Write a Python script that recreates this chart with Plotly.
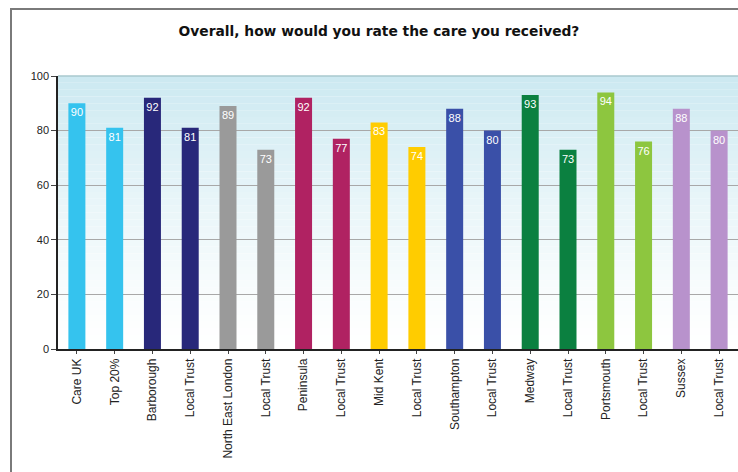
import plotly.graph_objects as go

categories = ["Care UK", "Top 20%", "Barborough", "Local Trust", "North East London", "Local Trust",
              "Peninsula", "Local Trust", "Mid Kent", "Local Trust", "Southampton", "Local Trust",
              "Medway", "Local Trust", "Portsmouth", "Local Trust", "Sussex", "Local Trust"]
values = [90, 81, 92, 81, 89, 73, 92, 77, 83, 74, 88, 80, 93, 73, 94, 76, 88, 80]
colors = ["#35C3EE", "#35C3EE", "#28287A", "#28287A", "#9A9A9A", "#9A9A9A",
          "#B02262", "#B02262", "#FFCC00", "#FFCC00", "#3A50A8", "#3A50A8",
          "#0B8040", "#0B8040", "#8DC63F", "#8DC63F", "#B892CC", "#B892CC"]
y_ticks = [0, 20, 40, 60, 80, 100]
title = "Overall, how would you rate the care you received?"

W, H = 738, 472
L, R, T, B = 58, 0, 76, 123

x_idx = list(range(len(categories)))

fig = go.Figure()
fig.add_trace(go.Bar(
    x=x_idx, y=values, marker=dict(color=colors, line=dict(width=0)),
    width=0.45, text=[str(v) for v in values], textposition="inside",
    insidetextanchor="end", textangle=0, constraintext="none",
    textfont=dict(color="white", size=11, family="Arial, Liberation Sans"),
    hoverinfo="skip"))

# gradient background of the plot area
shapes = []
n = 40
top = (0xCC, 0xE9, 0xF1)
for i in range(n):
    t = 1 - (i + 0.5) / n  # 1 at top -> 0 at bottom
    c = tuple(int(round(255 + (tc - 255) * (t ** 1.3))) for tc in top)
    shapes.append(dict(type="rect", xref="paper", yref="paper", x0=0, x1=1,
                       y0=1 - (i + 1) / n, y1=1 - i / n, layer="below",
                       line=dict(width=0), fillcolor="rgb(%d,%d,%d)" % c))
# top line of plot
shapes.append(dict(type="line", xref="paper", yref="paper", x0=0, x1=1, y0=1, y1=1,
                   line=dict(color="#A8C8CE", width=1.5)))
# outer frame
pw, ph = W - L - R, H - T - B
def px_x(p):
    return (p - L) / pw
def px_y(p):
    return (H - B - p) / ph
shapes.append(dict(type="line", xref="paper", yref="paper", x0=px_x(11), x1=px_x(11),
                   y0=px_y(9), y1=px_y(480), line=dict(color="#7A7A7A", width=2)))
shapes.append(dict(type="line", xref="paper", yref="paper", x0=px_x(10), x1=px_x(760),
                   y0=px_y(9), y1=px_y(9), line=dict(color="#7A7A7A", width=2)))

fig.update_layout(
    width=W, height=H, margin=dict(l=L, r=R, t=T, b=B),
    paper_bgcolor="white", plot_bgcolor="rgba(0,0,0,0)",
    showlegend=False, shapes=shapes, bargap=0.55,
    font=dict(family="Arial, Liberation Sans", color="#222"),
    title=dict(text="<b>" + title + "</b>", x=379 / W, xref="container", xanchor="center",
               y=1 - 31 / H, yanchor="middle", yref="container",
               font=dict(size=13.8, family="DejaVu Sans", color="#111")),
    xaxis=dict(tickmode="array", tickvals=x_idx, ticktext=categories,
               range=[-0.5, len(categories) - 0.5], tickangle=-90,
               tickfont=dict(size=12, color="#222"), showgrid=False,
               showline=True, linecolor="#222", linewidth=1.5,
               ticks="outside", tickson="boundaries", ticklen=3, tickcolor="#444",
               zeroline=False, fixedrange=True),
    yaxis=dict(range=[0, 100], tickvals=y_ticks, tickfont=dict(size=11, color="#222"),
               showgrid=True, gridcolor="#A8A8A8", gridwidth=1,
               showline=True, linecolor="#222", linewidth=1.5,
               ticks="outside", ticklen=5, tickcolor="#444", zeroline=False,
               fixedrange=True),
)
fig.write_html("out.html")
